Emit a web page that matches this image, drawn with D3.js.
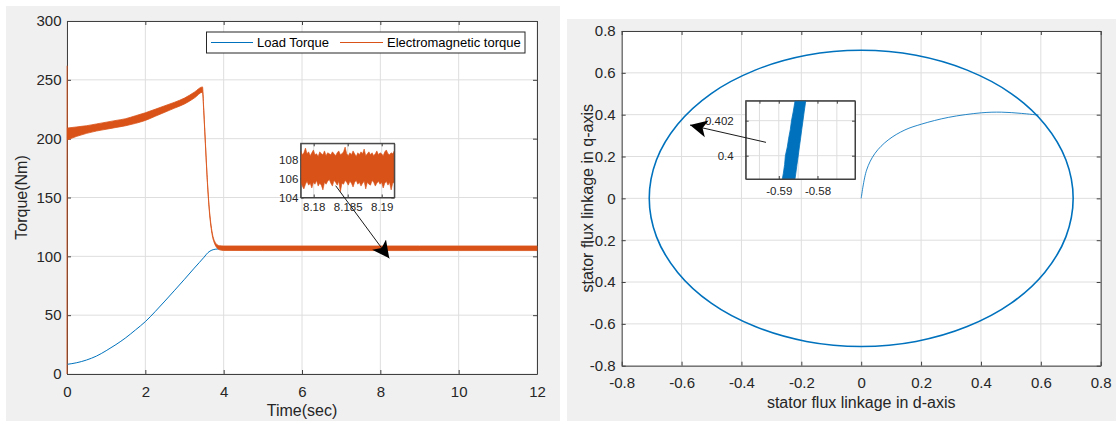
<!DOCTYPE html>
<html><head><meta charset="utf-8">
<script src="https://cdn.jsdelivr.net/npm/d3@7"></script>
<style>
body{margin:0;background:#fff;}
svg{display:block;font-family:"Liberation Sans",Arial,Helvetica,sans-serif;}
</style></head><body>
<svg id="c" width="1116" height="421"></svg>
<script>
// ---------------- DATA ----------------
// Left chart: torque vs time
const torqueXTicks = [0, 2, 4, 6, 8, 10, 12];
const torqueYTicks = [0, 50, 100, 150, 200, 250, 300];
const loadT = [0, 0.25, 0.5, 0.75, 1.0, 1.25, 1.5, 1.75, 2.0, 2.25, 2.5, 2.75, 3.0, 3.25, 3.5, 3.6, 3.7, 3.8, 3.9, 4.0, 5, 6, 8, 10, 12];
const loadV = [8.2, 9.6, 11.9, 15.2, 19.8, 25.0, 30.8, 37.5, 44.5, 53.0, 62.0, 71.2, 80.5, 90.0, 99.3, 103.2, 105.3, 106.1, 106.4, 106.5, 106.5, 106.5, 106.5, 106.5, 106.5];
const emSpikeT = [0, 0.004, 0.008];
const emSpikeV = [0, 262, 204];
const emT = [0.01, 0.25, 0.5, 0.75, 1.0, 1.25, 1.5, 1.75, 2.0, 2.25, 2.5, 2.75, 3.0, 3.25, 3.46, 3.49, 3.52, 3.55, 3.58, 3.61, 3.64, 3.68, 3.72, 3.76, 3.8, 3.85, 3.9, 4.0, 5, 6, 7, 8, 9, 10, 11, 12];
const emUpper = [209, 210, 211, 212.5, 214, 215.5, 217, 219.5, 222, 225, 228, 231, 234.5, 239.5, 244, 226, 206, 186, 167, 151, 138, 126, 118, 113.5, 111, 109.5, 109, 108.8, 108.8, 108.8, 108.8, 108.8, 108.8, 108.8, 108.8, 108.8];
const emLower = [199, 202, 204.5, 206.5, 208, 209.5, 211, 213, 215.5, 219, 222.5, 226, 229.5, 234.5, 239.5, 224, 204, 184, 165, 149, 136, 124, 116, 111.5, 108.5, 106.5, 105.5, 105, 104.9, 104.9, 104.9, 104.9, 104.9, 104.9, 104.9, 104.9];
const seriesNames = ["Load Torque", "Electromagnetic torque"];
// Left zoom inset
const zoomTorqueXDomain = [8.17809, 8.19185];
const zoomTorqueYDomain = [104, 109.7];
const zoomTorqueXTicks = [8.18, 8.185, 8.19];
const zoomTorqueYTicks = [104, 106, 108];
const zoomEmUpper = [108.9,108.5,108.7,109.2,108.6,108.8,108.4,108.7,109.0,108.5,108.6,108.3,108.8,108.6,108.5,108.9,108.4,108.7,108.6,108.5,108.8,108.6,108.4,108.7,108.9,108.5,108.6,108.8,109.3,108.6,108.4,108.7,108.5,108.9,108.6,108.3,108.7,108.5,108.8,108.6,109.1,108.4,108.6,108.8,108.5,108.7,108.4,108.6,108.9,108.5,108.7,108.6,108.4,108.8,109.0,108.6,108.5,108.7,108.6,108.9];
const zoomEmLower = [105.6,105.2,104.9,105.4,105.7,105.3,105.5,105.0,105.6,105.4,105.8,105.2,105.5,105.3,104.8,105.6,105.4,105.7,105.9,105.5,105.2,105.8,105.6,105.3,105.7,104.6,105.5,105.4,105.8,105.6,105.3,105.7,105.5,105.1,105.6,105.8,105.4,105.6,105.2,105.5,105.7,104.9,105.6,105.4,105.3,105.8,105.6,105.2,105.5,105.7,105.4,105.6,105.0,105.5,105.7,105.3,105.6,104.8,105.5,105.6];
// Right chart: stator flux trajectory
const fluxTicks = [-0.8, -0.6, -0.4, -0.2, 0, 0.2, 0.4, 0.6, 0.8];
const fluxCircleD = [0.708, 0.684, 0.613, 0.501, 0.354, 0.183, 0, -0.183, -0.354, -0.501, -0.613, -0.684, -0.708, -0.684, -0.613, -0.501, -0.354, -0.183, 0, 0.183, 0.354, 0.501, 0.613, 0.684];
const fluxCircleQ = [0, 0.183, 0.354, 0.501, 0.613, 0.684, 0.708, 0.684, 0.613, 0.501, 0.354, 0.183, 0, -0.183, -0.354, -0.501, -0.613, -0.684, -0.708, -0.684, -0.613, -0.501, -0.354, -0.183];
const fluxStartD = [0, 0.018, 0.046, 0.09, 0.146, 0.202, 0.291, 0.402, 0.469, 0.536, 0.592];
const fluxStartQ = [0, 0.135, 0.215, 0.279, 0.327, 0.355, 0.387, 0.409, 0.412, 0.406, 0.398];
// Right zoom inset
const zoomFluxXDomain = [-0.59855, -0.57031];
const zoomFluxYDomain = [0.39867, 0.40314];
const zoomFluxXTicks = [-0.59, -0.58];
const zoomFluxYTicks = [0.4, 0.402];
const zoomFluxGridX = [-0.595, -0.59, -0.585, -0.58, -0.575];
const zoomFluxQ = [0.3985, 0.3990, 0.3995, 0.4000, 0.4005, 0.4010, 0.4015, 0.4020, 0.4025, 0.4030, 0.4035];
const zoomFluxLeft = [-0.58922, -0.58882, -0.58849, -0.58830, -0.58780, -0.58745, -0.58702, -0.58672, -0.58628, -0.58590, -0.58554];
const zoomFluxRight = [-0.58592, -0.58560, -0.58530, -0.58497, -0.58468, -0.58436, -0.58407, -0.58375, -0.58345, -0.58312, -0.58283];

// ---------------- STYLE ----------------
const BLUE = "#0072BD", ORANGE = "#D95319", AXIS = "#404040", GRID = "#dedede", TXT = "#262626";
const svg = d3.select("#c");
svg.append("rect").attr("x", 6).attr("y", 6).attr("width", 554).attr("height", 415).attr("fill", "#f0f0f0");
svg.append("rect").attr("x", 567).attr("y", 19).attr("width", 549).attr("height", 402).attr("fill", "#f0f0f0");

const defs = svg.append("defs");
defs.append("marker").attr("id", "ah").attr("markerUnits", "userSpaceOnUse")
  .attr("markerWidth", 20).attr("markerHeight", 20).attr("refX", 12).attr("refY", 6)
  .attr("orient", "auto").attr("viewBox", "0 0 14 12")
  .append("path").attr("d", "M0,0 L12,6 L0,12 L3,6 Z").attr("fill", "#000");

function frame(g, x, y, xt, yt, opts) {
  const [x0, x1] = x.range(), [y1, y0] = y.range();
  g.append("rect").attr("x", x0).attr("y", y0).attr("width", x1 - x0).attr("height", y1 - y0).attr("fill", "#fff");
  const gg = g.append("g");
  gg.selectAll("line.gx").data(opts.gridX || xt).join("line").attr("x1", d => x(d)).attr("x2", d => x(d))
    .attr("y1", y0).attr("y2", y1).attr("stroke", GRID).attr("stroke-width", 1);
  gg.selectAll("line.gy").data(opts.gridY || yt).join("line").attr("y1", d => y(d)).attr("y2", d => y(d))
    .attr("x1", x0).attr("x2", x1).attr("stroke", GRID).attr("stroke-width", 1);
  const ts = opts.tick;
  const style = a => {
    a.selectAll("path.domain").attr("stroke", AXIS);
    a.selectAll(".tick line").attr("stroke", AXIS);
    a.selectAll("text").attr("fill", TXT).attr("font-size", opts.font + "px")
      .attr("font-family", '"Liberation Sans",Arial,sans-serif');
  };
  g.append("g").attr("transform", `translate(0,${y1})`)
    .call(d3.axisBottom(x).tickValues(xt).tickFormat(opts.fx).tickSizeInner(-ts).tickSizeOuter(0).tickPadding(opts.padX)).call(style);
  g.append("g").attr("transform", `translate(0,${y0})`)
    .call(d3.axisTop(x).tickValues(opts.gridX || xt).tickFormat("").tickSizeInner(-ts).tickSizeOuter(0)).call(style);
  g.append("g").attr("transform", `translate(${x0},0)`)
    .call(d3.axisLeft(y).tickValues(yt).tickFormat(opts.fy).tickSizeInner(-ts).tickSizeOuter(0).tickPadding(opts.padY)).call(style);
  g.append("g").attr("transform", `translate(${x1},0)`)
    .call(d3.axisRight(y).tickValues(yt).tickFormat("").tickSizeInner(-ts).tickSizeOuter(0)).call(style);
  g.selectAll(".domain").attr("stroke-width", 1);
}
function clipFor(id, x, y, pad) {
  const [x0, x1] = x.range(), [y1, y0] = y.range();
  defs.append("clipPath").attr("id", id).append("rect")
    .attr("x", x0 - pad).attr("y", y0).attr("width", x1 - x0 + 2 * pad).attr("height", y1 - y0);
  return `url(#${id})`;
}

// ---------------- LEFT CHART ----------------
const xT = d3.scaleLinear().domain([0, 12]).range([67, 537]);
const yT = d3.scaleLinear().domain([0, 300]).range([374, 21]);
const L = svg.append("g");
frame(L, xT, yT, torqueXTicks, torqueYTicks, {tick: 4, font: 15, padX: 12, padY: 5.5, fx: d => String(d), fy: d => String(d)});
const clipL = clipFor("clipL", xT, yT, 1);
const dataL = L.append("g").attr("clip-path", clipL);
dataL.append("path").datum(loadT.map((t, i) => [t, loadV[i]]))
  .attr("d", d3.line().x(d => xT(d[0])).y(d => yT(d[1])).curve(d3.curveMonotoneX))
  .attr("fill", "none").attr("stroke", BLUE).attr("stroke-width", 1);
dataL.append("path").datum(emSpikeT.map((t, i) => [t, emSpikeV[i]]))
  .attr("d", d3.line().x(d => xT(d[0])).y(d => yT(d[1])))
  .attr("fill", "none").attr("stroke", ORANGE).attr("stroke-width", 1.2).attr("stroke-opacity", 0.75);
dataL.append("path").datum(emT.map((t, i) => [t, emUpper[i], emLower[i]]))
  .attr("d", d3.area().x(d => xT(d[0])).y0(d => yT(d[2])).y1(d => yT(d[1])).curve(d3.curveMonotoneX))
  .attr("fill", ORANGE).attr("stroke", ORANGE).attr("stroke-width", 0.8).attr("stroke-linejoin", "round");

// legend
const lg = L.append("g");
lg.append("rect").attr("x", 206.5).attr("y", 32).attr("width", 318.5).attr("height", 21)
  .attr("fill", "#fff").attr("stroke", TXT).attr("stroke-width", 1);
[[211, 253, 257, BLUE], [340, 383, 387, ORANGE]].forEach((p, i) => {
  lg.append("line").attr("x1", p[0]).attr("x2", p[1]).attr("y1", 42.5).attr("y2", 42.5).attr("stroke", p[3]).attr("stroke-width", 1);
  lg.append("text").attr("x", p[2]).attr("y", 42.5).attr("dy", "0.35em").attr("font-size", "13px").attr("fill", "#000").text(seriesNames[i]);
});

// left inset
const xZ1 = d3.scaleLinear().domain(zoomTorqueXDomain).range([300.7, 394.3]);
const yZ1 = d3.scaleLinear().domain(zoomTorqueYDomain).range([197.5, 143.3]);
const Z1 = L.append("g");
frame(Z1, xZ1, yZ1, zoomTorqueXTicks, zoomTorqueYTicks, {tick: 3, font: 11.5, padX: 5.8, padY: 2.4, fx: d => String(d), fy: d => String(d)});
const clipZ1 = clipFor("clipZ1", xZ1, yZ1, 0);
const zStep = (zoomTorqueXDomain[1] - zoomTorqueXDomain[0]) / (zoomEmUpper.length - 1);
Z1.append("g").attr("clip-path", clipZ1).append("path")
  .datum(zoomEmUpper.map((u, i) => [zoomTorqueXDomain[0] + i * zStep, u, zoomEmLower[i]]))
  .attr("d", d3.area().x(d => xZ1(d[0])).y0(d => yZ1(d[2])).y1(d => yZ1(d[1])))
  .attr("fill", ORANGE).attr("stroke", ORANGE).attr("stroke-width", 0.6);
// redraw inset border on top
Z1.append("rect").attr("x", 300.7).attr("y", 143.3).attr("width", 93.6).attr("height", 54.2).attr("fill", "none").attr("stroke", AXIS);

// arrow
L.append("line").attr("x1", xT(6.86)).attr("y1", yT(160)).attr("x2", xT(8.228)).attr("y2", yT(98.3))
  .attr("stroke", "#1a1a1a").attr("stroke-width", 1).attr("marker-end", "url(#ah)");

L.append("text").attr("x", (67 + 537) / 2).attr("y", 415.5).attr("text-anchor", "middle").attr("font-size", "16px").attr("fill", TXT).text("Time(sec)");
L.append("text").attr("transform", "translate(21.7,197.5) rotate(-90)").attr("dy", "0.35em").attr("text-anchor", "middle").attr("font-size", "16px").attr("fill", TXT).text("Torque(Nm)");

// ---------------- RIGHT CHART ----------------
const xF = d3.scaleLinear().domain([-0.8, 0.8]).range([621.7, 1100.7]);
const yF = d3.scaleLinear().domain([-0.8, 0.8]).range([365.7, 31]);
const R = svg.append("g");
const fmt1 = d => d === 0 ? "0" : d.toFixed(1);
frame(R, xF, yF, fluxTicks, fluxTicks, {tick: 4, font: 15, padX: 12, padY: 6, fx: fmt1, fy: fmt1});
const clipR = clipFor("clipR", xF, yF, 0);
const dataR = R.append("g").attr("clip-path", clipR);
dataR.append("path").datum(fluxCircleD.map((d, i) => [d, fluxCircleQ[i]]))
  .attr("d", d3.line().x(d => xF(d[0])).y(d => yF(d[1])).curve(d3.curveCatmullRomClosed.alpha(0.5)))
  .attr("fill", "none").attr("stroke", BLUE).attr("stroke-width", 1.6);
dataR.append("path").datum(fluxStartD.map((d, i) => [d, fluxStartQ[i]]))
  .attr("d", d3.line().x(d => xF(d[0])).y(d => yF(d[1])).curve(d3.curveCatmullRom.alpha(0.5)))
  .attr("fill", "none").attr("stroke", BLUE).attr("stroke-width", 1).attr("stroke-opacity", 0.85);

// right inset
const xZ2 = d3.scaleLinear().domain(zoomFluxXDomain).range([745.7, 855]);
const yZ2 = d3.scaleLinear().domain(zoomFluxYDomain).range([179, 100.7]);
const Z2 = R.append("g");
frame(Z2, xZ2, yZ2, zoomFluxXTicks, zoomFluxYTicks, {tick: 3, font: 11.5, padX: 7.8, padY: 12, fx: d => String(d), fy: d => String(d), gridX: zoomFluxGridX});
const clipZ2 = clipFor("clipZ2", xZ2, yZ2, 0);
Z2.append("g").attr("clip-path", clipZ2).append("path")
  .datum(zoomFluxQ.map((q, i) => [q, zoomFluxLeft[i], zoomFluxRight[i]]))
  .attr("d", d3.area().y(d => yZ2(d[0])).x0(d => xZ2(d[1])).x1(d => xZ2(d[2])))
  .attr("fill", BLUE).attr("stroke", BLUE).attr("stroke-width", 0.8);
Z2.append("rect").attr("x", 745.7).attr("y", 100.7).attr("width", 109.3).attr("height", 78.3).attr("fill", "none").attr("stroke", AXIS);

R.append("line").attr("x1", xF(-0.318)).attr("y1", yF(0.2677)).attr("x2", xF(-0.5718)).attr("y2", yF(0.3504))
  .attr("stroke", "#1a1a1a").attr("stroke-width", 1).attr("marker-end", "url(#ah)");

R.append("text").attr("x", (621.7 + 1100.7) / 2).attr("y", 408).attr("text-anchor", "middle").attr("font-size", "16px").attr("fill", TXT).text("stator flux linkage in d-axis");
R.append("text").attr("transform", "translate(587,198.3) rotate(-90)").attr("dy", "0.35em").attr("text-anchor", "middle").attr("font-size", "16px").attr("fill", TXT).text("stator flux linkage in q-axis");
</script>
</body></html>
